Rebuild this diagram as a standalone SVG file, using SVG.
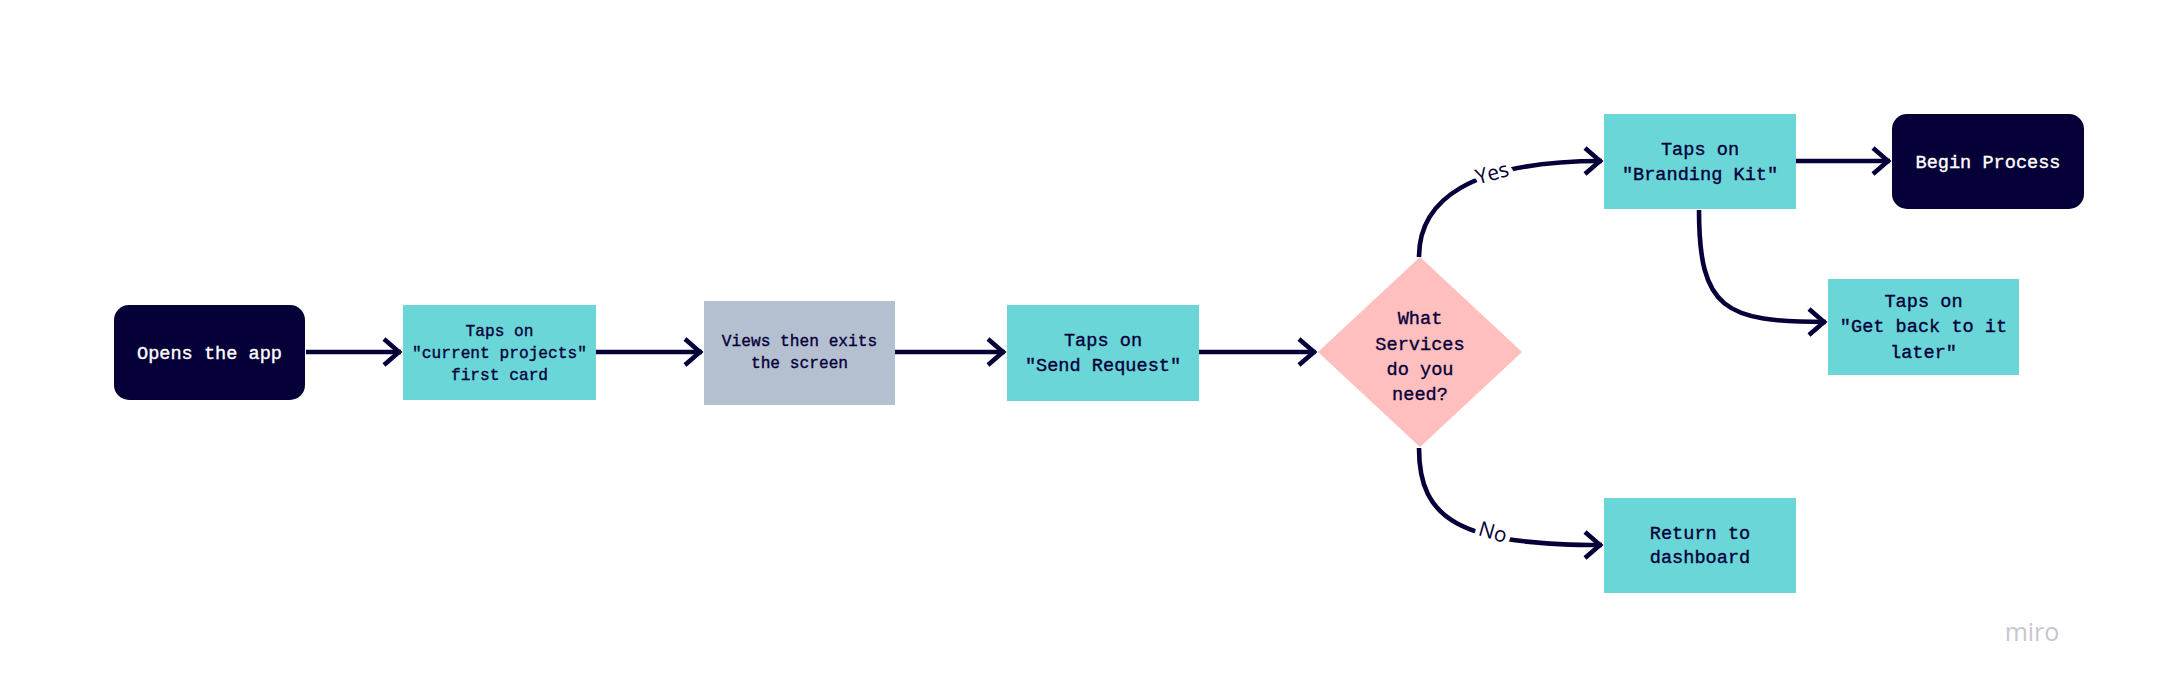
<svg xmlns="http://www.w3.org/2000/svg" width="2172" height="690" viewBox="0 0 2172 690">
<style>
.t{font-family:"Liberation Mono","DejaVu Sans Mono",monospace;font-size:18.6px;fill:#050038;stroke:#050038;stroke-width:0.35px;text-anchor:middle}
.s{font-size:16.2px}
.w{fill:#ffffff;stroke:#ffffff}
.cy{fill:#6AD6D8}
.dk{fill:#050038}
.gr{fill:#B4BFD0}
.pk{fill:#FFBFBE}
.c{fill:none;stroke:#050038;stroke-width:4.6}
.lbl{font-family:"Open Sans","Liberation Sans",sans-serif;font-size:21px;fill:#050038;text-anchor:middle;stroke:#ffffff;stroke-width:10px;paint-order:stroke;stroke-linejoin:round}
</style>
<defs>
<marker id="arr" markerUnits="userSpaceOnUse" viewBox="-22 -18 28 36" markerWidth="28" markerHeight="36" refX="2" refY="0" orient="auto">
<path d="M-15,-13 L0,0 L-15,13" fill="none" stroke="#050038" stroke-width="4.6"/>
</marker>
</defs>
<rect width="2172" height="690" fill="#ffffff"/>
<g id="connectors">
<path class="c" d="M306,352 H401" marker-end="url(#arr)"/>
<path class="c" d="M596,352 H702" marker-end="url(#arr)"/>
<path class="c" d="M895,352 H1005" marker-end="url(#arr)"/>
<path class="c" d="M1198,352 H1316" marker-end="url(#arr)"/>
<path class="c" d="M1796,161 H1890" marker-end="url(#arr)"/>
<path class="c" d="M1419,257 C1419,200 1470,161 1602,161" marker-end="url(#arr)"/>
<path class="c" d="M1699,210 C1699,310 1725,322 1826,322" marker-end="url(#arr)"/>
<path class="c" d="M1419,448 C1419,520 1460,545 1602,545" marker-end="url(#arr)"/>
<text class="lbl" transform="translate(1494,180) rotate(-16)">Yes</text>
<text class="lbl" transform="translate(1491,539) rotate(16)">No</text>
</g>
<g id="n-open">
<rect class="dk" x="114" y="305" width="191" height="95" rx="15"/>
<text class="t w" x="209.5" y="359">Opens the app</text>
</g>
<g id="n-current">
<rect class="cy" x="403" y="305" width="193" height="95"/>
<text class="t s" x="499.5" y="336">Taps on</text>
<text class="t s" x="499.5" y="358">"current projects"</text>
<text class="t s" x="499.5" y="380">first card</text>
</g>
<g id="n-views">
<rect class="gr" x="704" y="301" width="191" height="104"/>
<text class="t s" x="799.5" y="346">Views then exits</text>
<text class="t s" x="799.5" y="368">the screen</text>
</g>
<g id="n-send">
<rect class="cy" x="1007" y="305" width="192" height="96"/>
<text class="t" x="1103" y="346">Taps on</text>
<text class="t" x="1103" y="371">"Send Request"</text>
</g>
<g id="n-decision">
<polygon class="pk" points="1420,257 1522,352 1420,447 1318,352"/>
<text class="t" x="1420" y="324">What</text>
<text class="t" x="1420" y="350">Services</text>
<text class="t" x="1420" y="375">do you</text>
<text class="t" x="1420" y="400">need?</text>
</g>
<g id="n-branding">
<rect class="cy" x="1604" y="114" width="192" height="95"/>
<text class="t" x="1700" y="155">Taps on</text>
<text class="t" x="1700" y="180">"Branding Kit"</text>
</g>
<g id="n-begin">
<rect class="dk" x="1892" y="114" width="192" height="95" rx="15"/>
<text class="t w" x="1988" y="168">Begin Process</text>
</g>
<g id="n-later">
<rect class="cy" x="1828" y="279" width="191" height="96"/>
<text class="t" x="1923.5" y="307">Taps on</text>
<text class="t" x="1923.5" y="332">"Get back to it</text>
<text class="t" x="1923.5" y="358">later"</text>
</g>
<g id="n-return">
<rect class="cy" x="1604" y="498" width="192" height="95"/>
<text class="t" x="1700" y="539">Return to</text>
<text class="t" x="1700" y="563">dashboard</text>
</g>
<text x="2032" y="641" font-family="Open Sans, Liberation Sans, sans-serif" font-size="25" fill="#C6C6D0" text-anchor="middle">miro</text>
</svg>
